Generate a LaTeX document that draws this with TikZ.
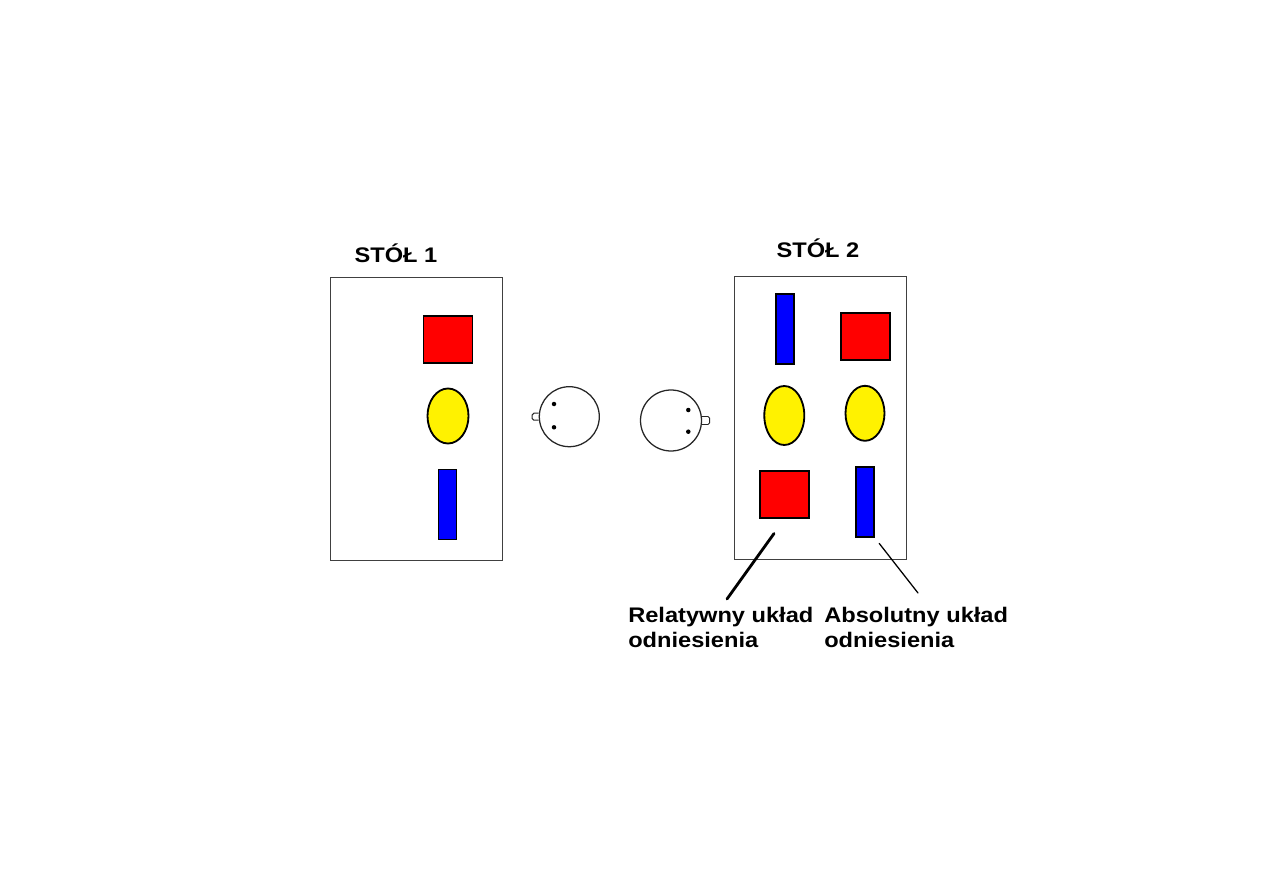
\documentclass[tikz,border=0pt]{standalone}
\usepackage{fontspec}
\setmainfont{Liberation Sans}[FakeStretch=1.12]
\usetikzlibrary{positioning,shapes.geometric,calc}
\newlength\pxu
\setlength\pxu{0.025cm}

\begin{document}
\begin{tikzpicture}[
            x=0.025cm, y=-0.025cm,
            font=\fontsize{15}{17.6}\selectfont\bfseries,
            tablebox/.style={
                    draw=black!75, line width=0.7pt, inner sep=0pt,
                    minimum width=172\pxu, minimum height=283\pxu
                },
            obj/.style={draw=black, line width=1.3pt, inner sep=0pt},
            redsq/.style={obj, fill=red, minimum width=49\pxu, minimum height=47\pxu},
            bluebar/.style={obj, fill=blue, minimum width=18\pxu, minimum height=70\pxu},
            yellowov/.style={obj, ellipse, fill=yellow},
            person/.style={circle, draw=black!85, line width=0.9pt, minimum size=60\pxu, inner sep=0pt},
            eyedot/.style={circle, fill=black, minimum size=4.5\pxu, inner sep=0pt},
            nose/.style={draw=black!85, line width=0.7pt, rounded corners=1.2pt},
            tabletitle/.style={inner sep=0pt},
            refnote/.style={align=left, anchor=north west, inner sep=0pt},
            pointer/.style={black, line cap=round},
            ]

            \useasboundingbox (0,0) rectangle (1263,893);

            % table 1
            \node[tablebox] (t1) at (416.5,419) {};
            \node[tabletitle] (t1title) at (396,253) {STÓŁ 1};
            \node[redsq] (t1red) at (448,339.5) {};
            \node[yellowov, minimum width=41\pxu, minimum height=55\pxu] (t1yel) at (448,416) {};
            \node[bluebar] (t1blue) at (447.5,504.5) {};

            % the two people facing each other
            \node[person] (lhead) at (569.3,416.7) {};
            \node[eyedot] (leye1) at (554,404) {};
            \node[eyedot] (leye2) at (554,427.3) {};
            \draw[nose] ($(lhead.west)+(0,-3.5)$) -- ++(-6.5,0) -- ++(0,7) -- ++(6.5,0);

            \node[person, minimum size=61\pxu] (rhead) at (671,420.5) {};
            \node[eyedot] (reye1) at (688.3,410) {};
            \node[eyedot] (reye2) at (688.3,431.7) {};
            \draw[nose] ($(rhead.east)+(0,-4)$) -- ++(7.5,0) -- ++(0,8) -- ++(-7.5,0);

            % table 2
            \node[tablebox] (t2) at (820,417.5) {};
            \node[tabletitle] (t2title) at (818,248) {STÓŁ 2};
            \node[bluebar] (t2blueA) at (785,329) {};
            \node[redsq] (t2redA) at (865.5,336.3) {};
            \node[yellowov, minimum width=40\pxu, minimum height=59\pxu] (t2yelA) at (784.3,415.5) {};
            \node[yellowov, minimum width=39\pxu, minimum height=55\pxu] (t2yelB) at (865,413.3) {};
            \node[redsq] (t2redB) at (784.5,494.5) {};
            \node[bluebar] (t2blueB) at (865,502) {};

            % frames of reference
            \node[refnote] (rellabel) at (628,607) {Relatywny układ\\odniesienia};
            \node[refnote] (abslabel) at (824,607) {Absolutny układ\\odniesienia};
            \coordinate (relend) at (727,599);
            \coordinate (absend) at (918,593);

            \draw[pointer, line width=2pt, shorten <=18\pxu] (t2redB.south) -- (relend);
            \draw[pointer, line width=0.9pt, shorten <=7\pxu] (t2blueB.south east) -- (absend);
        \end{tikzpicture}
\end{document}
